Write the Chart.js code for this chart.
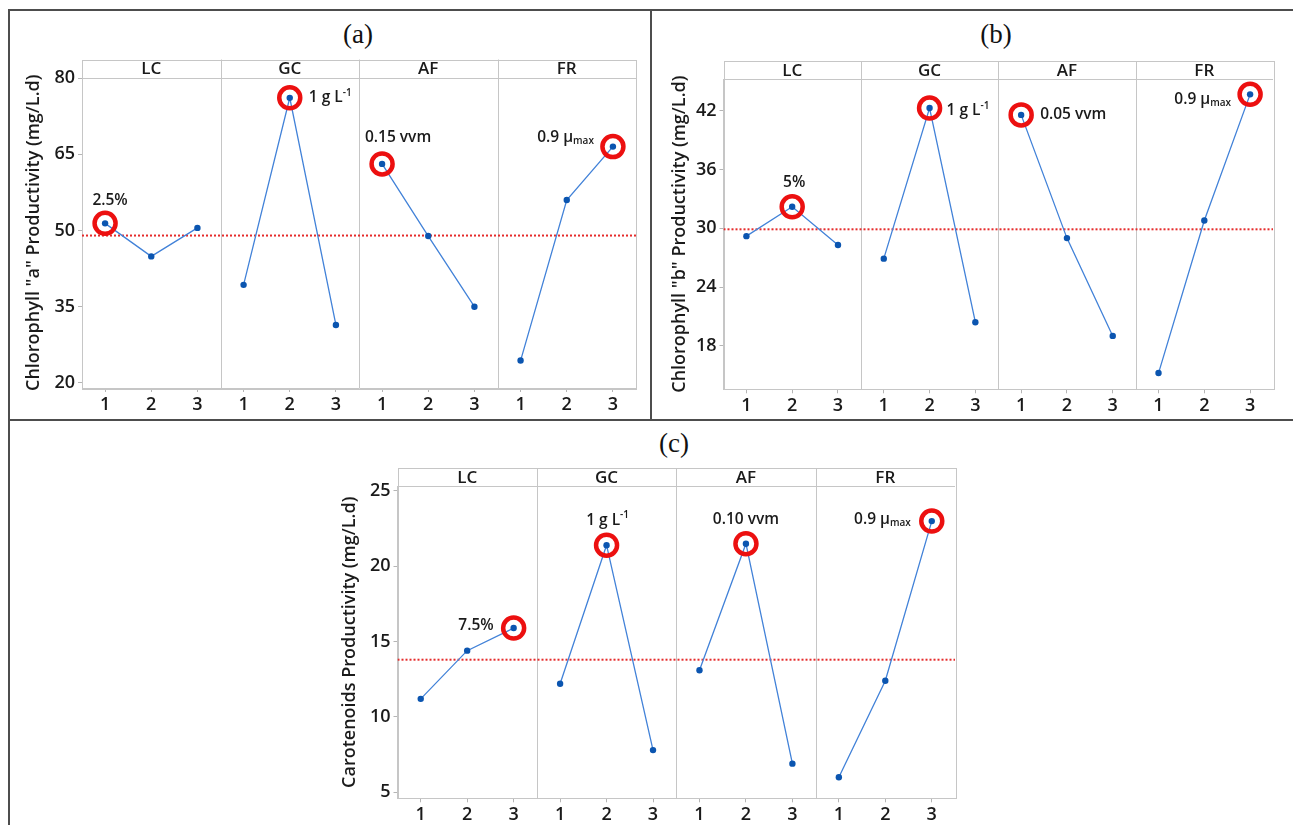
<!DOCTYPE html>
<html><head><meta charset="utf-8">
<script src="https://cdn.jsdelivr.net/npm/chart.js@4/dist/chart.umd.min.js"></script>
<style>
body{margin:0;background:#fff;width:1293px;height:825px;position:relative;overflow:hidden;font-family:"Open Sans",sans-serif}
.ln{position:absolute;background:#4d4d4d}
canvas{position:absolute}
.ptitle{position:absolute;font-family:"Liberation Serif",serif;font-size:27px;color:#111;transform:translate(-50%,-50%);white-space:nowrap}
</style></head><body>
<div class="ln" style="left:8px;top:9px;width:1285px;height:2px"></div>
<div class="ln" style="left:8px;top:9px;width:2px;height:816px"></div>
<div class="ln" style="left:650px;top:9px;width:2px;height:412px"></div>
<div class="ln" style="left:8px;top:419px;width:1285px;height:2px"></div>
<div class="ptitle" style="left:358px;top:34px">(a)</div>
<div class="ptitle" style="left:996px;top:34px">(b)</div>
<div class="ptitle" style="left:674px;top:443px">(c)</div>
<canvas id="ca" width="641" height="408" style="left:10px;top:11px"></canvas>
<canvas id="cb" width="640" height="408" style="left:653px;top:11px"></canvas>
<canvas id="cc" width="670" height="403" style="left:320px;top:422px"></canvas>
<script>
// ---------- data ----------
const factors = ['LC', 'GC', 'AF', 'FR'];
const levelTicks = [1, 2, 3];

const chlaTicks = [20, 35, 50, 65, 80];
const chlbTicks = [18, 24, 30, 36, 42];
const carTicks = [5, 10, 15, 20, 25];

// values ordered LC1..3, GC1..3, AF1..3, FR1..3
const chlaValues = [51.4, 44.9, 50.5, 39.3, 76.1, 31.4, 63.1, 48.9, 35.0, 24.4, 56.0, 66.5];
const chlbValues = [29.2, 32.2, 28.3, 26.9, 42.3, 20.4, 41.6, 29.0, 19.0, 15.2, 30.8, 43.7];
const carValues = [11.2, 14.4, 15.9, 12.2, 21.4, 7.8, 13.1, 21.5, 6.9, 6.0, 12.4, 23.0];

const chlaMean = 49.0;
const chlbMean = 29.9;
const carMean = 13.8;

// best level for each factor (highlighted)
const chlaBest = [1, 2, 1, 3];
const chlbBest = [2, 2, 1, 3];
const carBest = [3, 2, 2, 3];

const chlaNotes = ['2.5%', '1 g L^-1', '0.15 vvm', '0.9 μ_max'];
const chlbNotes = ['5%', '1 g L^-1', '0.05 vvm', '0.9 μ_max'];
const carNotes = ['7.5%', '1 g L^-1', '0.10 vvm', '0.9 μ_max'];

const chlaTitle = 'Chlorophyll "a" Productivity (mg/L.d)';
const chlbTitle = 'Chlorophyll "b" Productivity (mg/L.d)';
const carTitle = 'Carotenoids Productivity (mg/L.d)';

// ---------- styles / layout ----------
const FONT = '"Open Sans", sans-serif';
Chart.defaults.font.family = FONT;
const blueLine = '#4282d8', bluePt = '#0b55b0', red = '#ec1010', meanRed = '#e52b2b';
const frameGray = '#c6c6c6', textCol = '#1a1a1a';

function parseNote(s) {
  const parts = []; const re = /([\^_])(\S+)/g; let last = 0, m;
  while ((m = re.exec(s))) {
    if (m.index > last) parts.push({ t: s.slice(last, m.index), k: '' });
    parts.push({ t: m[2], k: m[1] }); last = re.lastIndex;
  }
  if (last < s.length) parts.push({ t: s.slice(last), k: '' });
  return parts;
}
function drawNote(ctx, s, x, y, align) {
  const parts = parseNote(s);
  const big = '600 15.5px ' + FONT, small = '600 10px ' + FONT;
  let w = 0;
  parts.forEach(p => { ctx.font = p.k ? small : big; p.w = ctx.measureText(p.t).width; w += p.w; });
  let cx = align === 'center' ? x - w / 2 : align === 'right' ? x - w : x;
  ctx.fillStyle = textCol; ctx.textBaseline = 'middle'; ctx.textAlign = 'left';
  parts.forEach(p => {
    ctx.font = p.k ? small : big;
    const dy = p.k === '^' ? -5 : p.k === '_' ? 4 : 0;
    ctx.fillText(p.t, cx, y + dy); cx += p.w;
  });
}

const facetPlugin = {
  id: 'facet',
  beforeDatasetsDraw(chart, args, o) {
    const { ctx, chartArea: { left, right, top, bottom } } = chart;
    const xs = chart.scales.x;
    const hTop = top - o.headerH;
    ctx.save();
    ctx.strokeStyle = frameGray; ctx.lineWidth = 1;
    ctx.strokeRect(Math.round(left) + 0.5, Math.round(hTop) + 0.5, Math.round(right - left), Math.round(bottom - hTop));
    ctx.beginPath(); ctx.moveTo(left, Math.round(top) + 0.5); ctx.lineTo(right, Math.round(top) + 0.5); ctx.stroke();
    for (let i = 1; i < factors.length; i++) {
      const px = Math.round(xs.getPixelForValue(i * 3 + 0.5)) + 0.5;
      ctx.beginPath(); ctx.moveTo(px, hTop); ctx.lineTo(px, bottom); ctx.stroke();
    }
    ctx.fillStyle = textCol; ctx.font = '600 17px ' + FONT; ctx.textAlign = 'center'; ctx.textBaseline = 'middle';
    factors.forEach((f, i) => {
      const cx = (xs.getPixelForValue(i * 3 + 0.5) + xs.getPixelForValue(i * 3 + 3.5)) / 2;
      ctx.fillText(f, cx, (hTop + top) / 2 + 1);
    });
    ctx.restore();
  },
  afterDatasetsDraw(chart, args, o) {
    const { ctx } = chart; const xs = chart.scales.x, ys = chart.scales.y;
    ctx.save();
    o.best.forEach((lv, f) => {
      const px = xs.getPixelForValue(f * 3 + lv), py = ys.getPixelForValue(o.values[f * 3 + lv - 1]);
      const st = o.noteStyle[f];
      drawNote(ctx, o.notes[f], px + st[1], py + st[2], st[0]);
    });
    ctx.restore();
  }
};

function makeChart(id, c) {
  const xTickValues = factors.flatMap((f, i) => levelTicks.map(l => i * 3 + l));
  const datasets = [];
  datasets.push({
    data: c.best.map((lv, f) => ({ x: f * 3 + lv, y: c.values[f * 3 + lv - 1] })),
    showLine: false, pointRadius: 10.5, pointBorderWidth: 4.5, pointBorderColor: red,
    pointBackgroundColor: 'rgba(0,0,0,0)', order: 0, clip: false
  });
  factors.forEach((f, i) => {
    datasets.push({
      data: levelTicks.map((lv, j) => ({ x: i * 3 + lv, y: c.values[i * 3 + j] })),
      showLine: true, borderColor: blueLine, borderWidth: 1.3, pointRadius: 3.2,
      pointBackgroundColor: bluePt, pointBorderWidth: 0, order: 1
    });
  });
  datasets.push({
    data: [{ x: 0.5, y: c.mean }, { x: 12.5, y: c.mean }], showLine: true,
    borderColor: meanRed, borderWidth: 2, borderDash: [2, 2], pointRadius: 0, order: 2
  });
  const tickFont = { size: 18, weight: '600' };
  new Chart(document.getElementById(id), {
    type: 'scatter',
    data: { datasets },
    options: {
      responsive: false, animation: false, events: [],
      layout: { padding: { top: c.padTop, right: c.padRight, left: 0, bottom: 0 } },
      plugins: {
        legend: { display: false }, tooltip: { enabled: false },
        facet: { headerH: 18, best: c.best, values: c.values, notes: c.notes, noteStyle: c.noteStyle }
      },
      scales: {
        x: {
          type: 'linear', min: 0.5, max: 12.5,
          afterBuildTicks: s => { s.ticks = xTickValues.map(v => ({ value: v })); },
          ticks: { callback: v => levelTicks[(v - 1) % 3], font: tickFont, color: textCol, padding: 2, maxRotation: 0, autoSkip: false },
          grid: { drawOnChartArea: false, drawTicks: true, tickLength: 4, color: '#b5b5b5' },
          border: { color: frameGray },
          afterFit: s => { s.height = c.xH; }
        },
        y: {
          min: c.yMin, max: c.yMax,
          afterBuildTicks: s => { s.ticks = c.yTicks.map(v => ({ value: v })); },
          ticks: { font: tickFont, color: textCol, padding: 3 },
          grid: { drawOnChartArea: false, drawTicks: true, tickLength: 4, color: '#b5b5b5' },
          border: { color: frameGray },
          title: { display: true, text: c.yTitle, font: { size: 18, weight: '600' }, color: textCol, padding: { top: c.titlePad, bottom: 0 } },
          afterFit: s => { s.width = c.yW; }
        }
      }
    },
    plugins: [facetPlugin]
  });
}

makeChart('ca', {
  values: chlaValues, mean: chlaMean, best: chlaBest, notes: chlaNotes, yTicks: chlaTicks, yTitle: chlaTitle,
  yMin: 19, yMax: 80.1, padTop: 66.5, padRight: 15, yW: 72, xH: 31, titlePad: 13,
  noteStyle: [['center', 5, -23], ['left', 19, 0], ['center', 16, -26], ['right', -19, -9]]
});
makeChart('cb', {
  values: chlbValues, mean: chlbMean, best: chlbBest, notes: chlbNotes, yTicks: chlbTicks, yTitle: chlbTitle,
  yMin: 13.54, yMax: 45.27, padTop: 68, padRight: 20, yW: 70.5, xH: 29.7, titlePad: 16,
  noteStyle: [['center', 2, -24], ['left', 17, 3], ['left', 19, 0], ['right', -19, 5]]
});
makeChart('cc', {
  values: carValues, mean: carMean, best: carBest, notes: carNotes, yTicks: carTicks, yTitle: carTitle,
  yMin: 4.6, yMax: 25.31, padTop: 64.3, padRight: 35, yW: 77.5, xH: 26.7, titlePad: 19,
  noteStyle: [['right', -20, -2], ['center', 1, -25], ['center', 0, -24], ['right', -21, -2]]
});
</script>
</body></html>
